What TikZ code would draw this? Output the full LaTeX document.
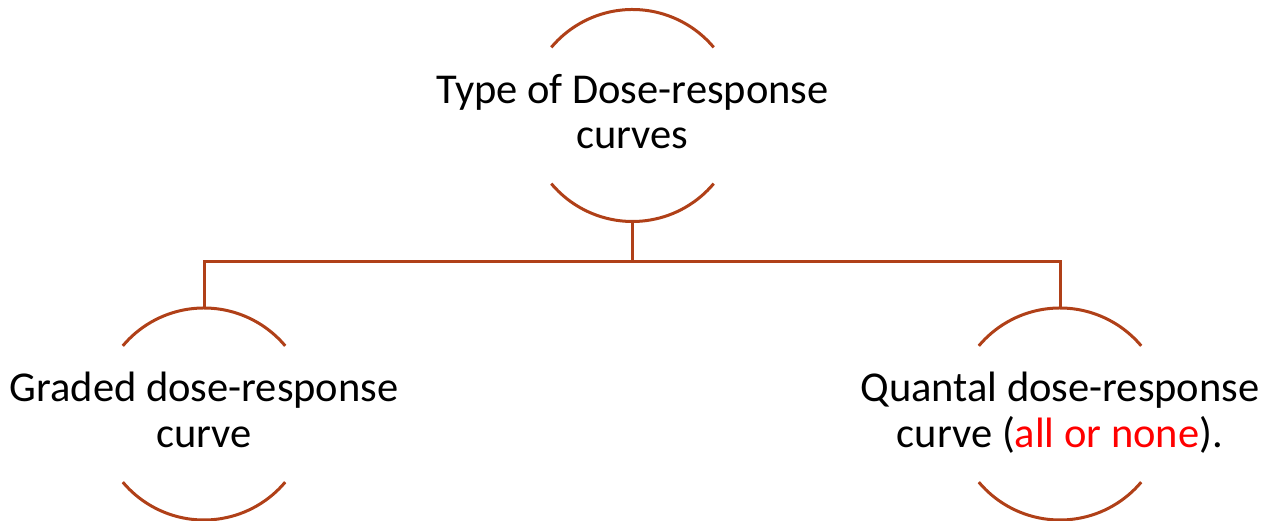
\documentclass[tikz,border=0pt]{standalone}
\usepackage{fontspec}
\setmainfont{Carlito}
\definecolor{ringbrown}{RGB}{176,64,24}
\definecolor{hot}{RGB}{255,0,0}
\begin{document}
\begin{tikzpicture}[x=1pt,y=1pt,
  ring/.style={circle, minimum size=212pt, inner sep=0pt, draw=none},
  caption/.style={align=center, font=\fontsize{42.5}{45.5}\selectfont, inner sep=0pt, anchor=base},
  arcline/.style={draw=ringbrown, line width=3pt},
  link/.style={draw=ringbrown, line width=3pt}]
\useasboundingbox (0,0) rectangle (1275,521);

% three open rings: only the upper and lower arcs of each circle are drawn
\node[ring] (root)  at (632.5,405.5) {};
\node[ring] (grad)  at (204,107) {};
\node[ring] (quant) at (1060,107) {};

\foreach \n in {root,grad,quant}{
  \draw[arcline] ([shift={(40:106pt)}]\n.center) arc[start angle=40, end angle=140, radius=106pt];
  \draw[arcline] ([shift={(220:106pt)}]\n.center) arc[start angle=220, end angle=320, radius=106pt];
}

% two-line labels; the base anchor sits on the second line's baseline
\node[caption] (rootlbl)  at ([yshift=-33.3pt]root.center)  {Type of Dose-response\\curves};
\node[caption] (gradlbl)  at ([yshift=-33.3pt]grad.center)  {Graded dose-response\\curve};
\node[caption] (quantlbl) at ([yshift=-33.3pt]quant.center) {Quantal dose-response\\curve (\textcolor{hot}{all or none}).};

% tree connectors
\coordinate (bus) at (632.5,259);
\draw[link] (root.south) -- (bus);
\draw[link] (grad.north) -- (grad.north |- bus) -- (quant.north |- bus) -- (quant.north);
\end{tikzpicture}
\end{document}
